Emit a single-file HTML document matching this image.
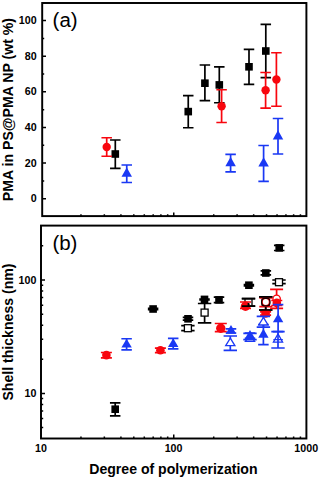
<!DOCTYPE html>
<html><head><meta charset="utf-8"><style>
html,body{margin:0;padding:0;background:#fff;}
body{width:320px;height:478px;overflow:hidden;}
svg{display:block;}
.tl{font-family:"Liberation Sans",sans-serif;font-weight:bold;font-size:10.7px;fill:#000;}
.ti{font-family:"Liberation Sans",sans-serif;font-weight:bold;font-size:14.1px;fill:#000;}
.pl{font-family:"Liberation Sans",sans-serif;font-size:19.5px;fill:#000;}
</style></head><body>
<svg width="320" height="478" viewBox="0 0 320 478">
<rect x="42.2" y="3.0" width="264.20" height="213.10" fill="none" stroke="#000" stroke-width="1.95"/>
<rect x="41.0" y="225.6" width="265.40" height="212.90" fill="none" stroke="#000" stroke-width="1.95"/>
<text x="36.6" y="202.35" class="tl" text-anchor="end">0</text>
<text x="36.6" y="166.72" class="tl" text-anchor="end">20</text>
<text x="36.6" y="131.09" class="tl" text-anchor="end">40</text>
<text x="36.6" y="95.46" class="tl" text-anchor="end">60</text>
<text x="36.6" y="59.83" class="tl" text-anchor="end">80</text>
<text x="36.6" y="24.20" class="tl" text-anchor="end">100</text>
<path d="M42.2 198.75H46.0 M42.2 163.12H46.0 M42.2 127.49H46.0 M42.2 91.86H46.0 M42.2 56.23H46.0 M42.2 20.60H46.0 M42.2 180.94H44.2 M42.2 145.31H44.2 M42.2 109.67H44.2 M42.2 74.04H44.2 M42.2 38.41H44.2 M80.96 216.1V214.3 M104.34 216.1V214.3 M120.92 216.1V214.3 M133.79 216.1V214.3 M144.30 216.1V214.3 M153.19 216.1V214.3 M160.89 216.1V214.3 M167.68 216.1V214.3 M213.71 216.1V214.3 M237.09 216.1V214.3 M253.67 216.1V214.3 M266.54 216.1V214.3 M277.05 216.1V214.3 M285.94 216.1V214.3 M293.64 216.1V214.3 M300.43 216.1V214.3 M173.75 216.1V212.4" stroke="#000" stroke-width="1.5" fill="none"/>
<path d="M41.0 427.54H43.2 M41.0 418.56H43.2 M41.0 410.97H43.2 M41.0 404.39H43.2 M41.0 398.59H43.2 M41.0 393.40H45.0 M41.0 359.26H43.2 M41.0 339.29H43.2 M41.0 325.13H43.2 M41.0 314.14H43.2 M41.0 305.16H43.2 M41.0 297.57H43.2 M41.0 290.99H43.2 M41.0 285.19H43.2 M41.0 280.00H45.0 M41.0 245.86H43.2 M80.96 438.5V436.6 M104.34 438.5V436.6 M120.92 438.5V436.6 M133.79 438.5V436.6 M144.30 438.5V436.6 M153.19 438.5V436.6 M160.89 438.5V436.6 M167.68 438.5V436.6 M213.71 438.5V436.6 M237.09 438.5V436.6 M253.67 438.5V436.6 M266.54 438.5V436.6 M277.05 438.5V436.6 M285.94 438.5V436.6 M293.64 438.5V436.6 M300.43 438.5V436.6 M173.75 438.5V434.6" stroke="#000" stroke-width="1.5" fill="none"/>
<text x="36.4" y="397.00" class="tl" text-anchor="end">10</text>
<text x="36.4" y="283.60" class="tl" text-anchor="end">100</text>
<text x="41.0" y="451.6" class="tl" text-anchor="middle">10</text>
<text x="173.6" y="451.6" class="tl" text-anchor="middle">100</text>
<text x="306.2" y="451.6" class="tl" text-anchor="middle">1000</text>
<text x="173.4" y="473.7" class="ti" text-anchor="middle">Degree of polymerization</text>
<text transform="translate(13.4 109.6) rotate(-90)" x="0" y="0" class="ti" text-anchor="middle">PMA in PS@PMA NP (wt %)</text>
<text transform="translate(13.2 332) rotate(-90)" x="0" y="0" class="ti" text-anchor="middle">Shell thickness (nm)</text>
<text transform="translate(52.6 26.5) scale(1.05 1)" class="pl">(a)</text>
<text transform="translate(52.4 249.6) scale(1.05 1)" class="pl">(b)</text>
<path d="M115.30 140.00V168.40M110.05 140.00H120.55M110.05 168.40H120.55" stroke="#000000" stroke-width="1.7" fill="none"/>
<rect x="111.50" y="150.20" width="7.60" height="7.60" fill="#000000"/>
<path d="M188.25 95.60V127.75M183.00 95.60H193.50M183.00 127.75H193.50" stroke="#000000" stroke-width="1.7" fill="none"/>
<rect x="184.45" y="107.80" width="7.60" height="7.60" fill="#000000"/>
<path d="M204.90 65.00V100.60M199.65 65.00H210.15M199.65 100.60H210.15" stroke="#000000" stroke-width="1.7" fill="none"/>
<rect x="201.10" y="79.40" width="7.60" height="7.60" fill="#000000"/>
<path d="M219.30 66.90V102.75M214.05 66.90H224.55M214.05 102.75H224.55" stroke="#000000" stroke-width="1.7" fill="none"/>
<rect x="215.50" y="81.10" width="7.60" height="7.60" fill="#000000"/>
<path d="M249.00 49.40V84.40M243.75 49.40H254.25M243.75 84.40H254.25" stroke="#000000" stroke-width="1.7" fill="none"/>
<rect x="245.20" y="63.00" width="7.60" height="7.60" fill="#000000"/>
<path d="M265.80 24.40V77.60M260.55 24.40H271.05M260.55 77.60H271.05" stroke="#000000" stroke-width="1.7" fill="none"/>
<rect x="262.00" y="47.20" width="7.60" height="7.60" fill="#000000"/>
<path d="M106.70 137.75V156.25M101.45 137.75H111.95M101.45 156.25H111.95" stroke="#f8060e" stroke-width="1.7" fill="none"/>
<circle cx="106.70" cy="147.00" r="4.20" fill="#f8060e"/>
<path d="M221.60 89.75V122.50M216.35 89.75H226.85M216.35 122.50H226.85" stroke="#f8060e" stroke-width="1.7" fill="none"/>
<circle cx="221.60" cy="106.20" r="4.20" fill="#f8060e"/>
<path d="M265.60 72.50V108.10M260.35 72.50H270.85M260.35 108.10H270.85" stroke="#f8060e" stroke-width="1.7" fill="none"/>
<circle cx="265.60" cy="90.20" r="4.20" fill="#f8060e"/>
<path d="M276.40 52.75V106.25M271.15 52.75H281.65M271.15 106.25H281.65" stroke="#f8060e" stroke-width="1.7" fill="none"/>
<circle cx="276.40" cy="79.50" r="4.20" fill="#f8060e"/>
<path d="M126.75 165.00V182.50M121.50 165.00H132.00M121.50 182.50H132.00" stroke="#1a38f4" stroke-width="1.7" fill="none"/>
<polygon points="126.75,167.62 132.00,176.82 121.50,176.82" fill="#1a38f4"/>
<path d="M230.60 154.40V171.90M225.35 154.40H235.85M225.35 171.90H235.85" stroke="#1a38f4" stroke-width="1.7" fill="none"/>
<polygon points="230.60,156.97 235.85,166.17 225.35,166.17" fill="#1a38f4"/>
<path d="M263.60 145.50V181.30M258.35 145.50H268.85M258.35 181.30H268.85" stroke="#1a38f4" stroke-width="1.7" fill="none"/>
<polygon points="263.60,157.27 268.85,166.47 258.35,166.47" fill="#1a38f4"/>
<path d="M278.00 118.50V154.00M272.75 118.50H283.25M272.75 154.00H283.25" stroke="#1a38f4" stroke-width="1.7" fill="none"/>
<polygon points="278.00,130.27 283.25,139.47 272.75,139.47" fill="#1a38f4"/>
<path d="M187.90 325.60V330.60M181.20 325.60H194.60M181.20 330.60H194.60" stroke="#000000" stroke-width="1.7" fill="none"/>
<rect x="184.40" y="324.70" width="7.00" height="7.00" rx="0" fill="#fff" stroke="#000000" stroke-width="1.3"/>
<path d="M204.60 303.50V322.80M197.90 303.50H211.30M197.90 322.80H211.30" stroke="#000000" stroke-width="1.7" fill="none"/>
<rect x="201.10" y="309.10" width="7.00" height="7.00" rx="0" fill="#fff" stroke="#000000" stroke-width="1.3"/>
<path d="M248.50 298.60V306.10M241.80 298.60H255.20M241.80 306.10H255.20" stroke="#000000" stroke-width="1.7" fill="none"/>
<rect x="245.00" y="298.90" width="7.00" height="7.00" rx="0" fill="#fff" stroke="#000000" stroke-width="1.3"/>
<path d="M265.70 296.90V310.00M259.00 296.90H272.40M259.00 310.00H272.40" stroke="#000000" stroke-width="1.7" fill="none"/>
<rect x="262.20" y="299.00" width="7.00" height="7.00" rx="0" fill="#fff" stroke="#000000" stroke-width="1.3"/>
<path d="M279.00 280.00V283.60M272.30 280.00H285.70M272.30 283.60H285.70" stroke="#000000" stroke-width="1.7" fill="none"/>
<rect x="275.50" y="278.70" width="7.00" height="7.00" rx="0" fill="#fff" stroke="#000000" stroke-width="1.3"/>
<path d="M265.80 297.90V306.60M259.30 297.90H272.30M259.30 306.60H272.30" stroke="#f8060e" stroke-width="1.7" fill="none"/>
<circle cx="265.80" cy="302.00" r="3.70" fill="#fff" stroke="#f8060e" stroke-width="1.4"/>
<path d="M276.60 289.40V308.40M270.10 289.40H283.10M270.10 308.40H283.10" stroke="#f8060e" stroke-width="1.7" fill="none"/>
<circle cx="276.60" cy="298.80" r="3.70" fill="#fff" stroke="#f8060e" stroke-width="1.4"/>
<path d="M106.40 352.50V357.90M100.90 352.50H111.90M100.90 357.90H111.90" stroke="#f8060e" stroke-width="1.7" fill="none"/>
<circle cx="106.40" cy="355.10" r="4.30" fill="#f8060e"/>
<path d="M160.40 348.20V352.60M154.90 348.20H165.90M154.90 352.60H165.90" stroke="#f8060e" stroke-width="1.7" fill="none"/>
<circle cx="160.40" cy="350.30" r="4.30" fill="#f8060e"/>
<path d="M220.80 323.50V331.60M214.80 323.50H226.80M214.80 331.60H226.80" stroke="#f8060e" stroke-width="1.7" fill="none"/>
<circle cx="220.80" cy="328.30" r="4.70" fill="#f8060e"/>
<path d="M245.50 302.00V308.40M240.00 302.00H251.00M240.00 308.40H251.00" stroke="#f8060e" stroke-width="1.7" fill="none"/>
<circle cx="245.50" cy="306.30" r="4.70" fill="#f8060e"/>
<path d="M265.60 311.80V315.20M260.10 311.80H271.10M260.10 315.20H271.10" stroke="#f8060e" stroke-width="1.7" fill="none"/>
<circle cx="265.60" cy="313.40" r="4.30" fill="#f8060e"/>
<path d="M276.80 300.50V305.50M271.30 300.50H282.30M271.30 305.50H282.30" stroke="#f8060e" stroke-width="1.7" fill="none"/>
<circle cx="276.80" cy="302.90" r="4.30" fill="#f8060e"/>
<path d="M241.80 298.60H255.20M241.80 306.10H255.20M248.50 303.10V306.10" stroke="#000" stroke-width="1.7" fill="none"/>
<path d="M259.00 296.90H272.40M259.00 310.00H272.40M265.70 307.00V310.00" stroke="#000" stroke-width="1.7" fill="none"/>
<rect x="261.6" y="298.4" width="8.4" height="7.4" rx="3" fill="none" stroke="#1a0000" stroke-width="1.2"/>
<path d="M115.20 402.90V415.80M109.95 402.90H120.45M109.95 415.80H120.45" stroke="#000000" stroke-width="1.7" fill="none"/>
<rect x="111.40" y="405.40" width="7.60" height="7.60" fill="#000000"/>
<path d="M153.10 308.30V309.70M147.85 308.30H158.35M147.85 309.70H158.35" stroke="#000000" stroke-width="1.7" fill="none"/>
<rect x="149.30" y="305.20" width="7.60" height="7.60" fill="#000000"/>
<path d="M188.00 317.40V320.20M182.75 317.40H193.25M182.75 320.20H193.25" stroke="#000000" stroke-width="1.7" fill="none"/>
<rect x="184.20" y="315.00" width="7.60" height="7.60" fill="#000000"/>
<path d="M204.50 299.00V299.80M199.25 299.00H209.75M199.25 299.80H209.75" stroke="#000000" stroke-width="1.7" fill="none"/>
<rect x="200.70" y="295.60" width="7.60" height="7.60" fill="#000000"/>
<path d="M219.00 297.10V302.70M213.75 297.10H224.25M213.75 302.70H224.25" stroke="#000000" stroke-width="1.7" fill="none"/>
<rect x="215.20" y="296.10" width="7.60" height="7.60" fill="#000000"/>
<path d="M248.90 284.60V285.80M243.65 284.60H254.15M243.65 285.80H254.15" stroke="#000000" stroke-width="1.7" fill="none"/>
<rect x="245.10" y="281.40" width="7.60" height="7.60" fill="#000000"/>
<path d="M265.85 270.90V274.90M260.60 270.90H271.10M260.60 274.90H271.10" stroke="#000000" stroke-width="1.7" fill="none"/>
<rect x="262.05" y="269.20" width="7.60" height="7.60" fill="#000000"/>
<path d="M279.20 245.40V250.50M273.95 245.40H284.45M273.95 250.50H284.45" stroke="#000000" stroke-width="1.7" fill="none"/>
<rect x="275.40" y="244.10" width="7.60" height="7.60" fill="#000000"/>
<path d="M126.60 338.75V349.90M121.35 338.75H131.85M121.35 349.90H131.85" stroke="#1a38f4" stroke-width="1.7" fill="none"/>
<polygon points="126.60,338.63 131.80,347.43 121.40,347.43" fill="#1a38f4"/>
<path d="M173.20 338.30V348.80M167.95 338.30H178.45M167.95 348.80H178.45" stroke="#1a38f4" stroke-width="1.7" fill="none"/>
<polygon points="173.20,338.13 178.40,346.93 168.00,346.93" fill="#1a38f4"/>
<path d="M231.00 328.80V333.00M225.75 328.80H236.25M225.75 333.00H236.25" stroke="#1a38f4" stroke-width="1.7" fill="none"/>
<polygon points="231.00,324.93 236.20,333.73 225.80,333.73" fill="#1a38f4"/>
<path d="M250.00 333.20V338.40M244.75 333.20H255.25M244.75 338.40H255.25" stroke="#1a38f4" stroke-width="1.7" fill="none"/>
<polygon points="250.00,329.93 255.20,338.73 244.80,338.73" fill="#1a38f4"/>
<path d="M263.40 324.70V344.70M258.15 324.70H268.65M258.15 344.70H268.65" stroke="#1a38f4" stroke-width="1.7" fill="none"/>
<polygon points="263.40,328.83 268.60,337.63 258.20,337.63" fill="#1a38f4"/>
<path d="M278.10 304.60V331.60M272.85 304.60H283.35M272.85 331.60H283.35" stroke="#1a38f4" stroke-width="1.7" fill="none"/>
<polygon points="278.10,313.53 283.30,322.33 272.90,322.33" fill="#1a38f4"/>
<path d="M230.30 336.00V350.30M223.60 336.00H237.00M223.60 350.30H237.00" stroke="#1a38f4" stroke-width="1.7" fill="none"/>
<polygon points="230.30,338.20 234.90,345.70 225.70,345.70" fill="#fff" stroke="#1a38f4" stroke-width="1.3" stroke-linejoin="miter"/>
<path d="M263.40 316.30V327.20M256.70 316.30H270.10M256.70 327.20H270.10" stroke="#1a38f4" stroke-width="1.7" fill="none"/>
<polygon points="263.40,317.40 268.00,324.90 258.80,324.90" fill="#fff" stroke="#1a38f4" stroke-width="1.3" stroke-linejoin="miter"/>
<path d="M278.00 331.60V348.00M271.30 331.60H284.70M271.30 348.00H284.70" stroke="#1a38f4" stroke-width="1.7" fill="none"/>
<path d="M273.4 339.6H282.8" stroke="#1a38f4" stroke-width="1.2"/>
<polygon points="278.00,333.80 282.60,342.20 273.40,342.20" fill="none" stroke="#1a38f4" stroke-width="1.3" stroke-linejoin="miter"/>
<path d="M250.00 333.30V339.60M243.30 333.30H256.70M243.30 339.60H256.70" stroke="#1a38f4" stroke-width="1.7" fill="none"/>
<polygon points="250.00,333.90 254.60,341.40 245.40,341.40" fill="none" stroke="#1a38f4" stroke-width="1.3" stroke-linejoin="miter"/>
</svg>
</body></html>
